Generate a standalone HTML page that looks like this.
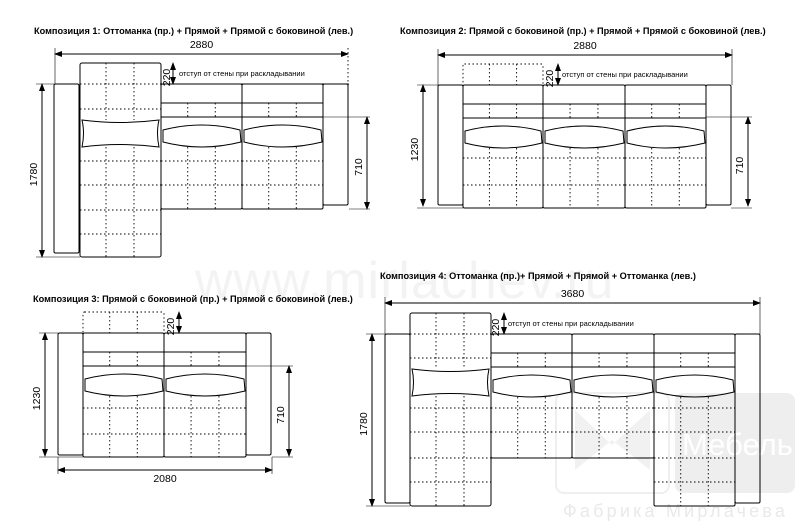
<!DOCTYPE html>
<html><head><meta charset="utf-8"><style>
html,body{margin:0;padding:0;background:#fff;width:800px;height:531px;overflow:hidden}
svg{display:block}
text{font-family:"Liberation Sans",sans-serif}
</style></head><body>
<svg id="s" width="800" height="531" viewBox="0 0 800 531" xmlns="http://www.w3.org/2000/svg">
<defs>
<marker id="a" markerWidth="8" markerHeight="6" refX="7" refY="3" orient="auto" markerUnits="userSpaceOnUse"><path d="M0,0 L8,3 L0,6 Z" fill="#000"/></marker>
</defs>
<!-- watermark -->
<text x="195" y="298" font-size="52" fill="#f3f3f3" letter-spacing="1">www.mirlachev.ru</text>
<g>
<rect x="556" y="393" width="113" height="100" rx="8" fill="none" stroke="#efefef" stroke-width="2"/>
<path d="M575,410 L612,445 L650,410 L650,470 L612,440 L575,470 Z" fill="#f1f1f1"/>
<rect x="675" y="393" width="120" height="100" rx="8" fill="#eeeeee"/>
<text x="682" y="455" font-size="31" fill="#fff">Мебель</text>
<text x="563" y="517" font-size="18" fill="#e9e9e9" letter-spacing="3.2">Фабрика Мирлачева</text>
</g>
<text x="34" y="34" font-size="9.2" font-weight="bold">Композиция 1: Оттоманка (пр.) + Прямой + Прямой с боковиной (лев.)</text>
<text x="400" y="34" font-size="9.2" font-weight="bold">Композиция 2: Прямой с боковиной (пр.) + Прямой + Прямой с боковиной (лев.)</text>
<text x="33" y="302" font-size="9.2" font-weight="bold">Композиция 3: Прямой с боковиной (пр.) + Прямой с боковиной (лев.)</text>
<text x="380" y="279" font-size="9.2" font-weight="bold">Композиция 4: Оттоманка (пр.)+ Прямой + Прямой + Оттоманка (лев.)</text>
<g id="g" fill="none" stroke="#000" stroke-width="1"></g>
</svg>
<script>
var g=document.getElementById('g'),s=document.getElementById('s');
function el(t,a,p){var e=document.createElementNS('http://www.w3.org/2000/svg',t);for(var k in a)e.setAttribute(k,a[k]);(p||g).appendChild(e);return e;}
function L(x1,y1,x2,y2,d,w){var a={x1:x1,y1:y1,x2:x2,y2:y2};if(d)a['stroke-dasharray']='1.5,2.5';if(w)a['stroke-width']=w;if(d)a['stroke-width']=0.9;return el('line',a);}
function R(x,y,w,h,rx,d){var a={x:x,y:y,width:w,height:h,rx:rx||1.5};if(d){a['stroke-dasharray']='1.5,2.5';a['stroke-width']=0.9;}return el('rect',a);}
function T(x,y,t,sz,rot){var a={x:x,y:y,'font-size':sz||10,fill:'#000',stroke:'none','text-anchor':'middle'};if(rot)a.transform='rotate(-90 '+x+' '+y+')';var e=el('text',a,s);e.textContent=t;return e;}
var m2=el('marker',{id:'b',markerWidth:8,markerHeight:6,refX:1,refY:3,orient:'auto',markerUnits:'userSpaceOnUse'},s.querySelector('defs'));
el('path',{d:'M8,0 L0,3 L8,6 Z',fill:'#000'},m2);
function dimH2(x1,x2,y,t,ty){var l=L(x1,y,x2,y);l.setAttribute('marker-end','url(#a)');l.setAttribute('marker-start','url(#b)');T((x1+x2)/2,ty,t,10.5);}
function dimV2(x,y1,y2,t,tx){var l=L(x,y1,x,y2);l.setAttribute('marker-end','url(#a)');l.setAttribute('marker-start','url(#b)');T(tx,(y1+y2)/2+4,t,10.5,1);}
function cushion(x,w,cy){el('path',{d:'M'+(x+2)+','+(cy+2)+' Q'+(x+w/2)+','+(cy-8)+' '+(x+w-2)+','+(cy+2)+' L'+(x+w-1)+','+(cy+14)+' Q'+(x+w/2)+','+(cy+24)+' '+(x+2)+','+(cy+14)+' Z'});}
function mod(x,w,top,bot,hs){R(x,top,w,bot-top,1.5);L(x,top+19,x+w,top+19);L(x,top+33,x+w,top+33);
 var v1=x+w*0.33,v2=x+w*0.67;L(v1,top+19,v1,top+33,1);L(v2,top+19,v2,top+33,1);
 var cy=top+44;cushion(x,w,cy);L(v1,cy+19,v1,bot,1);L(v2,cy+19,v2,bot,1);
 (hs||[]).forEach(function(h){L(x,h,x+w,h,1);});}
function ott(x,top,bot,hs,py){var w=81;R(x,top,w,bot-top,2);var v1=x+26,v2=x+54;
 L(v1,top,v1,py,1);L(v2,top,v2,py,1);L(v1,py+27,v1,bot,1);L(v2,py+27,v2,bot,1);
 hs.forEach(function(h){L(x,h,x+w,h,1);});
 el('path',{d:'M'+(x+2)+','+py+' Q'+(x+40)+','+(py+5)+' '+(x+w-2)+','+py+' Q'+(x+w-5)+','+(py+13)+' '+(x+w-2)+','+(py+27)+' Q'+(x+40)+','+(py+22)+' '+(x+2)+','+(py+27)+' Q'+(x+5)+','+(py+13)+' '+(x+2)+','+py+' Z'});}
function arm(x,top,bot){R(x,top,25,bot-top,1.5);}
function off(x,y){T(x,y,'отступ от стены при раскладывании',7.5).setAttribute('text-anchor','start');}
function dash(x,w,top){R(x,top,w,21,0,1);L(x+w*0.33,top,x+w*0.33,top+21,1);L(x+w*0.67,top,x+w*0.67,top+21,1);}

// Composition 1
dimH2(55,348,54,'2880',48);
L(55,48,55,84,0,0.6);L(348,48,348,84,0.6);
arm(54,84,253);ott(80,63,257,[84,109,161,185,210,234],120);
L(161,84,323,84);mod(161,81,84,209,[161,185]);mod(242,81,84,209,[161,185]);
arm(323,84,205);L(323,84,349,84);
dimV2(173,63,84,'220',170);off(179,76);
dimV2(42,84,257,'1780',37);L(36,257,80,257,0,0.6);L(36,84,54,84,0,0.6);
dimV2(367,117,209,'710',362);L(323,117,370,117,0,0.6);L(349,209,370,209,0,0.6);

// Composition 2
dimH2(438,732,55,'2880',49);
L(438,49,438,85,0,0.6);L(732,49,732,85,0,0.6);
arm(438,85,205);mod(463,80,85,208,[158,185]);mod(543,82,85,208,[158,185]);mod(625,81,85,208,[158,185]);arm(706,85,205);
dash(463,80,64);dimV2(558,64,85,'220',553);off(562,77);
dimV2(423,85,206,'1230',418);L(417,85,438,85,0,0.6);L(417,208,463,208,0,0.6);
dimV2(748,117,206,'710',743);L(706,117,752,117,0,0.6);L(731,208,752,208,0,0.6);

// Composition 3
arm(58,333,455);mod(83,81,333,457,[408,434]);mod(164,82,333,457,[408,434]);arm(246,333,455);
dash(83,81,312);dimV2(179,312,333,'220',174);
dimV2(45,333,456,'1230',40);L(39,333,58,333,0,0.6);L(39,457,83,457,0,0.6);
dimV2(289,366,456,'710',284);L(246,366,293,366,0,0.6);L(272,457,293,457,0,0.6);
dimH2(58,272,470,'2080',482);L(58,457,58,474,0,0.6);L(272,457,272,474,0,0.6);

// Composition 4
dimH2(385,760,303,'3680',297);
L(385,297,385,334,0,0.6);L(760,297,760,334,0,0.6);
arm(385,334,503);ott(410,313,506,[334,358,408,432,458,482],369);
mod(491,81,334,458,[408,432]);mod(572,82,334,458,[408,432]);mod(654,81,334,506,[408,432,458,482]);
arm(735,334,503);
dimV2(504,313,334,'220',499);off(508,326);
dimV2(372,334,506,'1780',367);L(366,334,385,334,0,0.6);L(366,506,410,506,0,0.6);
</script>
</body></html>
